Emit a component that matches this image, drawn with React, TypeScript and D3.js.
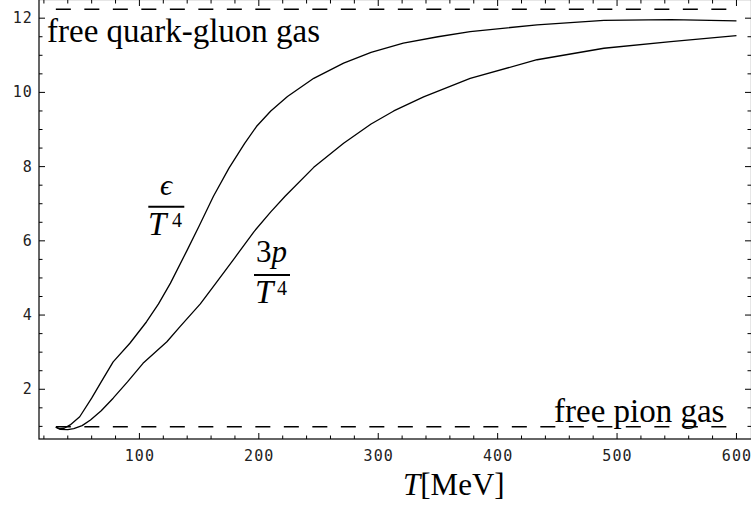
import React from "react";
import * as d3 from "d3";

// Energy density epsilon/T^4 (T in MeV)
const epsT = [30, 33, 37, 42, 50, 60, 68, 78, 92, 106, 116, 126, 140, 150, 162, 175, 188, 198, 210, 224, 246, 271, 294, 321, 350, 377, 433, 489, 545, 600];
const epsV = [0.98, 0.93, 0.95, 1.04, 1.26, 1.76, 2.2, 2.74, 3.24, 3.82, 4.3, 4.86, 5.75, 6.4, 7.2, 7.96, 8.62, 9.08, 9.5, 9.89, 10.38, 10.79, 11.08, 11.33, 11.5, 11.64, 11.82, 11.94, 11.96, 11.93];

// Pressure 3p/T^4
const presT = [30, 34, 40, 45, 52, 59, 68, 78, 90, 103, 123, 134, 151, 165, 180, 196, 210, 222, 246, 271, 294, 313, 338, 377, 433, 489, 545, 600];
const presV = [0.98, 0.92, 0.91, 0.94, 1.02, 1.17, 1.42, 1.76, 2.2, 2.7, 3.28, 3.69, 4.3, 4.9, 5.55, 6.25, 6.78, 7.2, 7.98, 8.63, 9.15, 9.5, 9.88, 10.38, 10.88, 11.19, 11.37, 11.53];

// Limits
const limitT = [30, 600];
const qgpLimit = 12.24;
const pionLimit = 0.987;

const xMajor = [100, 200, 300, 400, 500, 600];
const xMinor = d3.range(20, 601, 20);
const yMajor = [2, 4, 6, 8, 10, 12];
const yMinor = d3.range(1, 12.01, 0.5);

export default function App() {
  const W = 751, H = 507;
  const L = 39, R = 751.5, T = -0.5, B = 439;
  const x = d3.scaleLinear().domain([15.9, 612.6]).range([L, R]);
  const y = d3.scaleLinear().domain([0.66, 12.49]).range([B, 0]);
  const line = d3.line<[number, number]>().x(d => x(d[0])).y(d => y(d[1]));
  const eps = line(epsT.map((t, i) => [t, epsV[i]]));
  const pres = line(presT.map((t, i) => [t, presV[i]]));
  const tickStyle: React.CSSProperties = { fontFamily: "'DejaVu Sans Mono', monospace", fontSize: 15, letterSpacing: 1.1 };
  const serifStyle: React.CSSProperties = { fontFamily: "'Liberation Serif', 'DejaVu Serif', serif" };
  return (
    <svg width={W} height={H} style={{ position: "absolute", left: 0, top: 0, background: "#fff" }}>
      {/* frame */}
      <rect x={L} y={T} width={R - L} height={B - T} fill="none" stroke="#000" strokeWidth={1.2} />
      {/* ticks */}
      {xMinor.map(v => {
        const major = xMajor.includes(v);
        const len = major ? 6 : 3.5;
        return (
          <g key={"xt" + v} stroke="#000" strokeWidth={1}>
            <line x1={x(v)} x2={x(v)} y1={B} y2={B - len} />
            <line x1={x(v)} x2={x(v)} y1={0} y2={len} />
          </g>
        );
      })}
      {yMinor.map(v => {
        const major = yMajor.some(m => Math.abs(m - v) < 1e-6);
        const len = major ? 6 : 3.5;
        return (
          <g key={"yt" + v} stroke="#000" strokeWidth={1}>
            <line x1={L} x2={L + len} y1={y(v)} y2={y(v)} />
            <line x1={751} x2={751 - len} y1={y(v)} y2={y(v)} />
          </g>
        );
      })}
      {xMajor.map(v => (
        <text key={"xl" + v} x={x(v) + 0.5} y={460.5} textAnchor="middle" fill="#222" style={tickStyle}>{v}</text>
      ))}
      {yMajor.map(v => (
        <text key={"yl" + v} x={33} y={y(v)} textAnchor="end" dominantBaseline="central" fill="#222" style={tickStyle}>{v}</text>
      ))}
      {/* limits */}
      <line x1={x(limitT[0])} x2={x(limitT[1])} y1={y(qgpLimit)} y2={y(qgpLimit)} stroke="#000" strokeWidth={1.5} strokeDasharray="15 13.5" />
      <line x1={x(limitT[0])} x2={x(limitT[1])} y1={y(pionLimit)} y2={y(pionLimit)} stroke="#000" strokeWidth={1.5} strokeDasharray="15 13.5" />
      {/* curves */}
      <path d={eps || ""} fill="none" stroke="#000" strokeWidth={1.3} strokeLinejoin="round" />
      <path d={pres || ""} fill="none" stroke="#000" strokeWidth={1.3} strokeLinejoin="round" />
      {/* labels */}
      <text x={47} y={42} fontSize={33} fill="#000" style={serifStyle}>free quark-gluon gas</text>
      <text x={554} y={421.5} fontSize={33} fill="#000" style={serifStyle}>free pion gas</text>
      <text x={403} y={495} fontSize={31} fill="#000" style={serifStyle}>
        <tspan fontStyle="italic">T</tspan><tspan>[MeV]</tspan>
      </text>
      {/* epsilon / T^4 and 3p / T^4 */}
      <g fill="#000" style={serifStyle}>
        <text x={166} y={195} fontSize={30} fontStyle="italic" textAnchor="middle">ϵ</text>
        <line x1={148.3} x2={184.3} y1={206.7} y2={206.7} stroke="#000" strokeWidth={2} />
        <text x={148} y={235} fontSize={33} fontStyle="italic">T</text>
        <text x={172} y={226.7} fontSize={20}>4</text>
        <text x={256} y={261.5} fontSize={31}>3<tspan fontStyle="italic">p</tspan></text>
        <line x1={254} x2={290} y1={275} y2={275} stroke="#000" strokeWidth={2} />
        <text x={255} y={303.3} fontSize={33} fontStyle="italic">T</text>
        <text x={277} y={295} fontSize={20}>4</text>
      </g>
    </svg>
  );
}
